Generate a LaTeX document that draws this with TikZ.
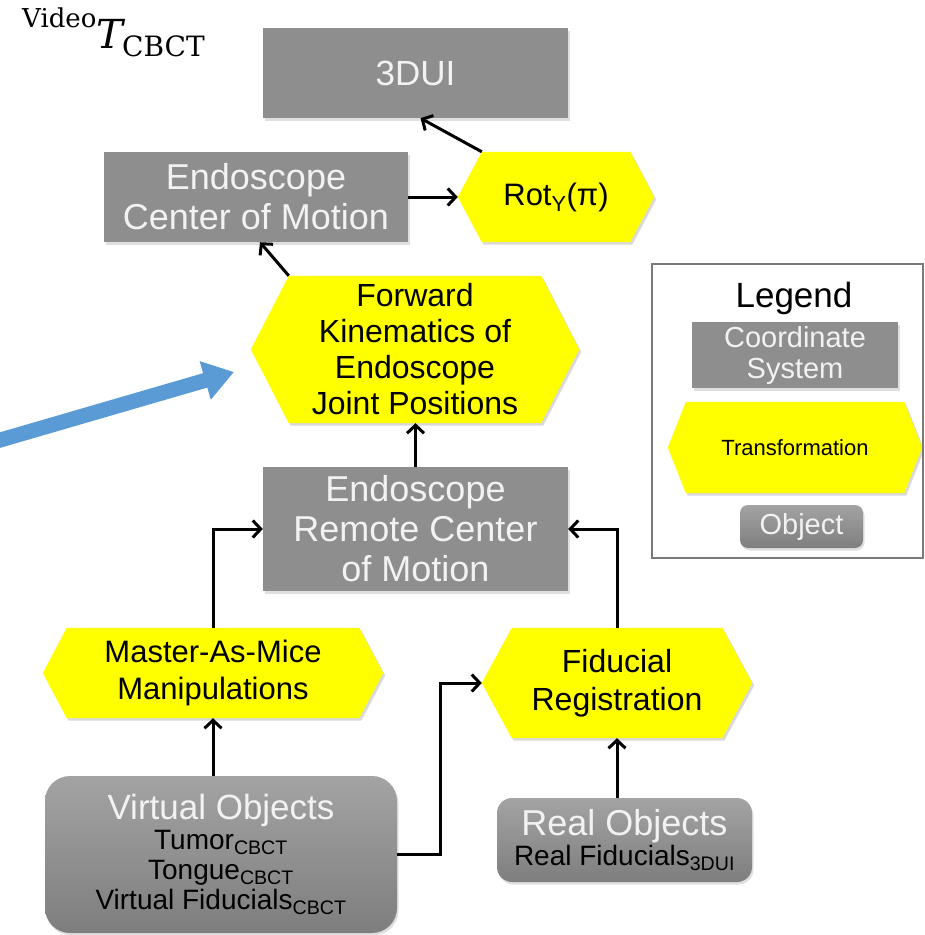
\documentclass[tikz,border=0pt]{standalone}
\usepackage[no-math]{fontspec}
\setsansfont{Liberation Sans}
\newfontfamily\labfont{DejaVu Serif}
\usetikzlibrary{arrows.meta,backgrounds,shadows}
\definecolor{boxgray}{HTML}{8E8E8E}
\definecolor{boxtxt}{HTML}{F2F2F2}
\definecolor{hexyel}{HTML}{FFFF00}
\definecolor{arrblue}{HTML}{5B9BD5}
\definecolor{objtop}{HTML}{A3A3A3}
\definecolor{objbot}{HTML}{7E7E7E}
\definecolor{legline}{HTML}{7A7A7A}
\newcommand\hexpath[2]{([xshift=#2]#1.north west) -- ([xshift=-#2]#1.north east) -- (#1.east) -- ([xshift=-#2]#1.south east) -- ([xshift=#2]#1.south west) -- (#1.west) -- cycle}
\newcommand\fsz[2]{\fontsize{#1}{#2}\selectfont\sffamily}
\begin{document}
\begin{tikzpicture}[x=1pt,y=-1pt,
  shd/.style={drop shadow={shadow xshift=1.5pt,shadow yshift=-2.5pt,opacity=0.25}},
  csys/.style={rectangle,fill=boxgray,text=boxtxt,align=center,inner sep=0pt,shd},
  xform/.style={rectangle,align=center,inner sep=0pt,text=black},
  obj/.style={rectangle,rounded corners=#1,top color=objtop,bottom color=objbot,text=boxtxt,align=center,inner sep=0pt,shd},
  obj/.default=15pt,
  conn/.style={line width=3pt,-{Straight Barb[length=8pt,width=17pt]}}
]
\useasboundingbox (0,0) rectangle (925,935);

% label
\node[anchor=base west,inner sep=0pt,font=\labfont] (lab) at (22,48)
  {\raisebox{21pt}{\fontsize{26}{28}\selectfont Video}\fontsize{40}{44}\selectfont\itshape T\upshape\kern-1pt\raisebox{-8pt}{\fontsize{28}{30}\selectfont CBCT}};

% main nodes
\node[csys,minimum width=305,minimum height=90,font=\fsz{35}{40}] (U) at (415.5,73) {3DUI};
\node[csys,minimum width=304,minimum height=90,font=\fsz{36}{40}] (E) at (256,197) {Endoscope\\Center of Motion};
\node[xform,minimum width=196,minimum height=90,font=\fsz{31}{36}] (R) at (556,197) {Rot\textsubscript{Y}(π)};
\node[xform,minimum width=328,minimum height=147,font=\fsz{32}{36}] (F) at (415,349.5) {Forward\\Kinematics of\\Endoscope\\Joint Positions};
\node[csys,minimum width=305,minimum height=124,font=\fsz{36}{40}] (C) at (415.5,529) {Endoscope\\Remote Center\\of Motion};
\node[xform,minimum width=340,minimum height=90,font=\fsz{31}{37}] (M) at (213,673) {Master-As-Mice\\Manipulations};
\node[xform,minimum width=270,minimum height=110,font=\fsz{32}{38}] (G) at (617,683) {Fiducial\\Registration};
\node[obj=25pt,minimum width=352,minimum height=157,font=\fsz{28}{30}] (V) at (221,854.5)
  {\fsz{35}{36}Virtual Objects\\
   \color{black}\fsz{28}{30}Tumor\textsubscript{CBCT}\\
   \color{black}\fsz{28}{30}Tongue\textsubscript{CBCT}\\
   \color{black}\fsz{28}{30}Virtual Fiducials\textsubscript{CBCT}};
\node[obj=15pt,minimum width=255,minimum height=84,font=\fsz{28}{30}] (O) at (624.5,840)
  {\fsz{36}{38}Real Objects\\
   \color{black}\fsz{28}{30}Real Fiducials\textsubscript{3DUI}};

% legend
\node[draw=legline,line width=1.5pt,minimum width=271,minimum height=294,inner sep=0pt] (L) at (787.5,411) {};
\node[font=\fsz{35}{40},inner sep=0pt] (LT) at (794,298) {Legend};
\node[csys,minimum width=206,minimum height=66,font=\fsz{29}{31}] (LC) at (795,355) {Coordinate\\System};
\node[xform,minimum width=254,minimum height=91,font=\fsz{22}{26}] (LX) at (795,447.5) {Transformation};
\node[obj=8pt,minimum width=123,minimum height=43,font=\fsz{29}{31}] (LO) at (801.5,526.5) {Object};

% hexagon fills
\begin{pgfonlayer}{background}
\foreach \n/\i in {R/24pt,F/38pt,M/24pt,G/30pt,LX/18pt} {
  \fill[black,opacity=0.15,transform canvas={xshift=2pt,yshift=-2.5pt}] \hexpath{\n}{\i};
  \fill[hexyel] \hexpath{\n}{\i};
}
\end{pgfonlayer}

% connectors
\draw[conn] (E.east) -- (R.west);
\draw[conn] ([xshift=24pt]R.north west) -- ([xshift=5pt]U.south);
\draw[conn] ([xshift=38pt]F.north west) -- ([xshift=4pt]E.south);
\draw[conn] (C.north) -- (C.north |- F.south);
\draw[conn] (M.north) |- (C.west);
\draw[conn] (G.north) |- (C.east);
\draw[conn] (M.south |- V.north) -- (M.south);
\draw[conn] (G.south |- O.north) -- (G.south);
\coordinate (vr) at (440,854.5);
\draw[conn] (V.east) -- (vr) |- (G.west);

% blue pointer
\coordinate (bs) at (-10,443);
\coordinate (bt) at (234,372);
\draw[arrblue,line width=15pt,-{Triangle[length=30pt,width=38pt]}] (bs) -- (bt);
\end{tikzpicture}
\end{document}
